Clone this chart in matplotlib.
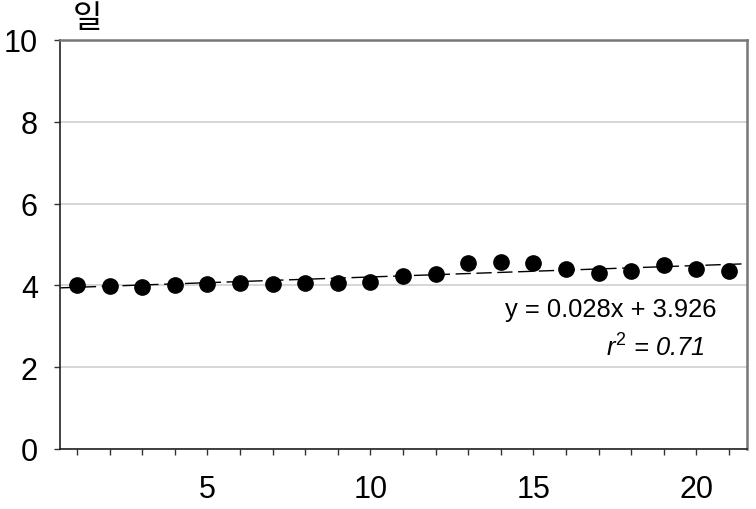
import numpy as np
import matplotlib.pyplot as plt

plt.rcParams['font.family'] = ['Liberation Sans', 'Noto Sans CJK KR', 'DejaVu Sans']
plt.rcParams['mathtext.fontset'] = 'custom'
plt.rcParams['mathtext.rm'] = 'Liberation Sans'
plt.rcParams['mathtext.it'] = 'Liberation Sans:italic'

days = list(range(1, 22))
values = [4.00, 3.98, 3.97, 4.00, 4.03, 4.06, 4.03, 4.07, 4.07, 4.09, 4.23,
          4.28, 4.54, 4.58, 4.54, 4.40, 4.30, 4.36, 4.50, 4.40, 4.36]
slope, intercept = 0.028, 3.926
r2 = 0.71

fig = plt.figure(figsize=(7.56, 5.10), dpi=100)
ax = fig.add_axes([60 / 756, 60 / 510, 687 / 756, 409 / 510])

ax.set_xlim(0.48, 21.55)
ax.set_ylim(0, 10)

ax.yaxis.grid(True, color='#d0d0d0', linewidth=1.2)
ax.set_axisbelow(True)

xs = np.array(ax.get_xlim())
ax.plot(xs, slope * xs + intercept, color='black', linewidth=1,
        dashes=(11, 4), zorder=2)
ax.plot(days, values, 'o', color='black', markersize=11, zorder=3)

ax.set_xticks([5, 10, 15, 20])
ax.set_xticks(days, minor=True)
ax.set_yticks([0, 2, 4, 6, 8, 10])
ax.tick_params(axis='both', which='both', direction='out', length=4,
               width=1, labelsize=22, color='#333333')
ax.tick_params(axis='x', which='major', pad=14)
ax.tick_params(axis='y', which='major', pad=12)

for side in ['left', 'bottom']:
    ax.spines[side].set_color('#222222')
    ax.spines[side].set_linewidth(1.2)
for side in ['top', 'right']:
    ax.spines[side].set_color('#777777')
    ax.spines[side].set_linewidth(1.8)

ax.text(0.956, 0.342, f'y = {slope:.3f}x + {intercept:.3f}', transform=ax.transAxes,
        ha='right', va='center', fontsize=18.4)
ax.text(0.939, 0.249, r'$r^2$ = ' + f'{r2:.2f}', transform=ax.transAxes,
        ha='right', va='center', fontsize=18.4, style='italic')

fig.text(87 / 756, 1 - 19 / 510, '일', ha='center', va='center', fontsize=23,
         family=['Noto Sans CJK KR', 'DejaVu Sans'])

fig.savefig('out.png', dpi=100)
